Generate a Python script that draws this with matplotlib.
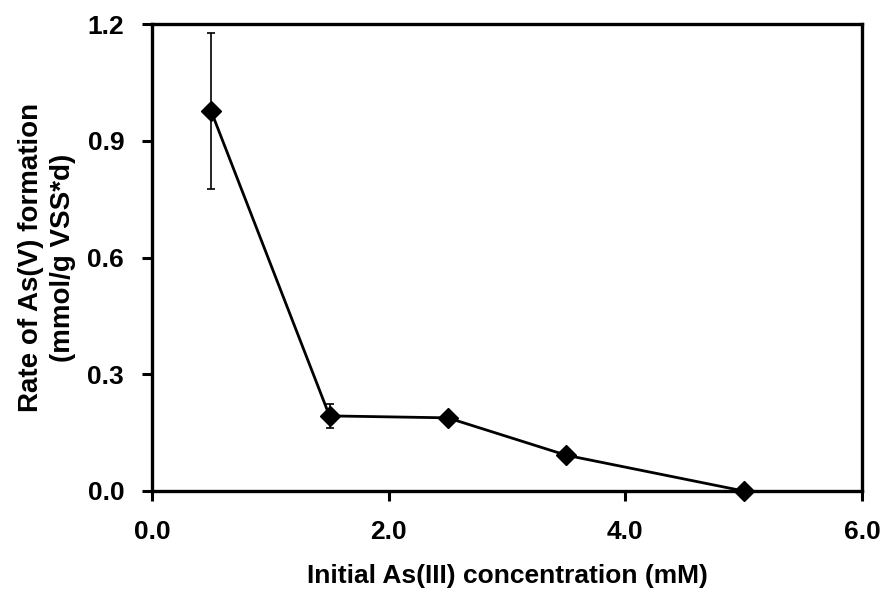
import matplotlib
matplotlib.use("Agg")
from matplotlib import pyplot as plt

plt.rcParams['font.family'] = ['Liberation Sans', 'DejaVu Sans']
plt.rcParams['font.weight'] = 'bold'

conc = [0.5, 1.5, 2.5, 3.5, 5.0]
rate = [0.976, 0.193, 0.188, 0.092, 0.000]
err = [0.200, 0.030, 0.000, 0.000, 0.000]

fig = plt.figure(figsize=(8.96, 5.99), dpi=100)
ax = fig.add_axes([152 / 896, 1 - 491 / 599, 710 / 896, 467 / 599])

ax.errorbar(conc, rate, yerr=err, color='black', lw=2, marker='D', ms=10,
            ecolor='black', elinewidth=1.2, capsize=3, capthick=1.2,
            clip_on=False, zorder=3)

ax.set_xlim(0, 6)
ax.set_ylim(0, 1.2)
ax.set_xticks([0, 2, 4, 6])
ax.set_xticklabels(['0.0', '2.0', '4.0', '6.0'])
ax.set_yticks([0, 0.3, 0.6, 0.9, 1.2])
ax.set_yticklabels(['0.0', '0.3', '0.6', '0.9', '1.2'])
ax.tick_params(which='major', direction='out', length=7, width=2.2, labelsize=19)
ax.tick_params(axis='x', which='major', pad=14)
ax.tick_params(axis='y', which='major', pad=13)
for s in ax.spines.values():
    s.set_linewidth(2.4)

ax.set_xlabel('Initial As(III) concentration (mM)', fontsize=19, fontweight='bold', labelpad=14)
ax.set_ylabel('Rate of As(V) formation\n(mmol/g VSS*d)', fontsize=20, fontweight='bold',
              labelpad=8, linespacing=1.3)

fig.savefig('out.png', dpi=100)
